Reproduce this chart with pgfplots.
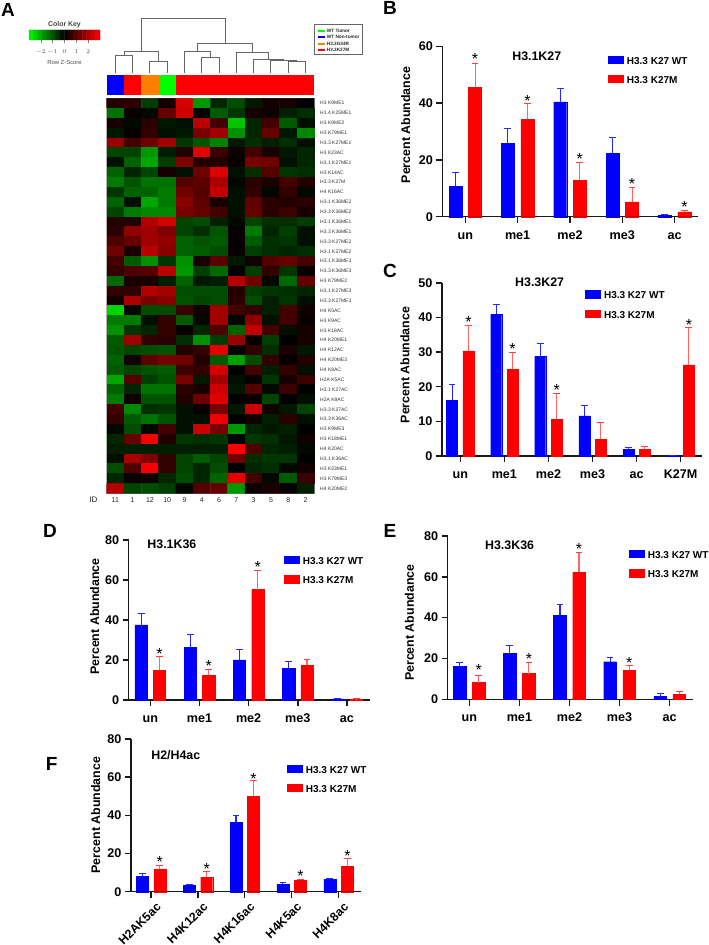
\documentclass[border=0pt]{standalone}
\usepackage{pgfplots}
\pgfplotsset{compat=1.18}
\usepackage{fontspec}
\setmainfont{Liberation Sans}
\newcommand\fs[1]{\fontsize{#1}{#1}\selectfont}
\newcommand\xt[1]{\draw[line width=1.4pt, black!90] (axis cs:#1,0) -- ++(0pt,-6.5pt);}
\newcommand\kt[1]{\draw[line width=.6pt, black!50] (axis cs:#1,-.5) -- ++(0pt,-3.5pt);}
\pgfplotsset{
  panel/.style={
    scale only axis, anchor=south west, axis lines=left, clip=false, enlargelimits=false,
    axis line style={-, line width=1.4pt, black!90},
    tick style={line width=1.4pt, draw=black!90},
    major tick length=6pt, tick align=outside, ymin=0,
    /pgf/number format/assume math mode=true,
    tick label style={font=\fs{12.6}\bfseries},
    label style={font=\fs{12.4}\bfseries},
    title style={font=\fs{12.4}\bfseries, anchor=center},
    every axis title shift=0pt,
    legend cell align=left,
    legend style={draw=none, fill=none, anchor=north west, inner sep=0pt, outer sep=0pt,
      font=\fs{10}\bfseries, row sep=9.2pt, column sep=3.4pt, nodes={inner sep=0pt}},
    legend image code/.code={\fill[##1] (0pt,-1.7pt) rectangle (15pt,5.7pt);},
  },
  xl/.style={x tick label style={text height=9pt, yshift=-4pt}},
  wt/.style={ybar, fill=blue, draw=blue, line width=.3pt, bar shift=0pt,
    error bars/y dir=plus, error bars/y explicit,
    error bars/error bar style={draw=blue!85, line width=1.1pt},
    error bars/error mark options={rotate=90, draw=blue!85, mark size=3.4pt, line width=1pt}},
  mt/.style={ybar, fill=red, draw=red, line width=.3pt, bar shift=0pt,
    error bars/y dir=plus, error bars/y explicit,
    error bars/error bar style={draw=red!60, line width=1.1pt},
    error bars/error mark options={rotate=90, draw=red!75, mark size=3.4pt, line width=1pt}},
  dg/.style={draw=black!60, line width=.8pt, mark=none, line join=miter},
}
\tikzset{sig/.style={font=\fs{16}, anchor=base, inner sep=0pt, yshift=-7pt, text=black},
  plet/.style={font=\fs{19}\bfseries, inner sep=0pt}}
\begin{document}
\begin{tikzpicture}
\path[use as bounding box] (0pt,0pt) rectangle (709pt,945pt);

% panel letters
\node[plet] at (8pt,935pt) {A};
\node[plet] at (390pt,937pt) {B};
\node[plet] at (390pt,674.3pt) {C};
\node[plet] at (50pt,414.3pt) {D};
\node[plet] at (390pt,414.3pt) {E};
\node[plet] at (51.7pt,181pt) {F};

% colour key
\begin{axis}[scale only axis, anchor=south west, at={(29pt,905pt)}, width=71pt, height=10pt,
  xmin=-3, xmax=3, ymin=-.5, ymax=1.5, ytick=\empty, axis line style={draw=none}, clip=false,
  xtick={-2,-1,0,1,2}, x axis line style={draw=none}, xtick pos=bottom,
  tick align=outside, major tick length=3.5pt, tick style={draw=black!50, line width=.6pt},
  x tick label style={font=\fs{5.6}, text=black!70, yshift=-3pt},
  colormap={rg}{rgb255=(0,255,0) rgb255=(0,0,0) rgb255=(255,0,0)},
  point meta min=-3, point meta max=3,
  title={Color Key}, title style={font=\fs{6.9}\bfseries, text=black!75, yshift=-7.5pt},
  xlabel={Row Z-Score}, xlabel style={font=\fs{5.9}, text=black!70, yshift=1pt}]
\addplot[matrix plot*, mesh/cols=16, point meta=x, shader=flat corner] table[row sep=\\] {
x y\\
-2.8125 0\\-2.4375 0\\-2.0625 0\\-1.6875 0\\-1.3125 0\\-0.9375 0\\-0.5625 0\\-0.1875 0\\0.1875 0\\0.5625 0\\0.9375 0\\1.3125 0\\1.6875 0\\2.0625 0\\2.4375 0\\2.8125 0\\
-2.8125 1\\-2.4375 1\\-2.0625 1\\-1.6875 1\\-1.3125 1\\-0.9375 1\\-0.5625 1\\-0.1875 1\\0.1875 1\\0.5625 1\\0.9375 1\\1.3125 1\\1.6875 1\\2.0625 1\\2.4375 1\\2.8125 1\\
};
\kt{-2}\kt{-1}\kt{0}\kt{1}\kt{2}
\end{axis}

% dendrogram and annotation strip, in pixel units of the figure
\begin{axis}[scale only axis, anchor=south west, at={(100pt,845pt)}, width=220pt, height=85pt,
  xmin=100, xmax=320, ymin=15, ymax=100, y dir=reverse, hide axis]
\addplot[dg] coordinates {(115.7,72.7)(115.7,55.7)(132.7,55.7)(132.7,72.7)};
\addplot[dg] coordinates {(149.7,72.7)(149.7,61.3)(167.3,61.3)(167.3,72.7)};
\addplot[dg] coordinates {(124.2,55.7)(124.2,51.7)(158.5,51.7)(158.5,61.3)};
\addplot[dg] coordinates {(201.7,72.7)(201.7,57.7)(219.3,57.7)(219.3,72.7)};
\addplot[dg] coordinates {(184.3,72.7)(184.3,51.7)(210.5,51.7)(210.5,57.7)};
\addplot[dg] coordinates {(288.3,72.7)(288.3,61.7)(305.3,61.7)(305.3,72.7)};
\addplot[dg] coordinates {(270.7,72.7)(270.7,60.3)(296.8,60.3)(296.8,61.7)};
\addplot[dg] coordinates {(253.7,72.7)(253.7,59.7)(283.7,59.7)(283.7,60.3)};
\addplot[dg] coordinates {(236.7,72.7)(236.7,52.3)(268.7,52.3)(268.7,59.7)};
\addplot[dg] coordinates {(197.4,51.7)(197.4,43.3)(252.7,43.3)(252.7,52.3)};
\addplot[dg] coordinates {(141.3,51.7)(141.3,18.3)(225,18.3)(225,43.3)};
\addplot[fill=blue, draw=none] coordinates {(106.7,75)(124,75)(124,95)(106.7,95)} --cycle;
\addplot[fill=red, draw=none] coordinates {(124,75)(141.3,75)(141.3,95)(124,95)} --cycle;
\addplot[fill=orange, draw=none] coordinates {(141.3,75)(158.6,75)(158.6,95)(141.3,95)} --cycle;
\addplot[fill=green, draw=none] coordinates {(158.6,75)(175.9,75)(175.9,95)(158.6,95)} --cycle;
\addplot[fill=red, draw=none] coordinates {(175.9,75)(314.2,75)(314.2,95)(175.9,95)} --cycle;
\end{axis}

% heat-map legend
\draw[black!60, line width=.8pt, fill=white] (314.3pt,920.7pt) rectangle (362.3pt,891pt);
\foreach \yy/\cc/\lab in {914/green/WT Tumor, 907.7/blue/WT Non-tumor, 901/orange/H3.3G34R, 895.3/red/H3.3K27M}{
  \draw[draw=\cc, line width=2pt] (318.3pt,\yy pt) -- (325pt,\yy pt);
  \node[anchor=west, inner sep=0pt, font=\fs{4.7}\bfseries, text=black!85] at (326.7pt,\yy pt) {\lab};
}

% heat map
\begin{axis}[scale only axis, anchor=south west, at={(106.7pt,451.7pt)}, width=207.5pt, height=395pt,
  xmin=-.5, xmax=11.5, ymin=-.5, ymax=39.5, y dir=reverse, clip=false,
  axis line style={draw=black!30, line width=.6pt},
  colormap={rg}{rgb255=(0,228,0) rgb255=(0,0,0) rgb255=(255,0,0)},
  point meta min=-3, point meta max=3,
  xtick={0,...,11}, xticklabels={11,1,12,10,9,4,6,7,3,5,8,2},
  ytick={0,...,39},
  yticklabels={H3 K9ME1,H1.4 K25ME1,H3 K9ME2,H3 K79ME1,H3.3 K27ME1,H3 K23AC,H3.1 K27ME1,H3 K14AC,H3.3 K27M,H4 K16AC,H3.1 K36ME2,H3.3 K36ME2,H3.1 K36ME1,H3.3 K36ME1,H3.3 K27ME2,H3.1 K27ME2,H3.1 K36ME3,H3.3 K36ME3,H3 K79ME2,H3.1 K27ME3,H3.3 K27ME3,H4 K5AC,H3 K9AC,H3 K18AC,H4 K20ME1,H4 K12AC,H4 K20ME3,H4 K8AC,H2A K5AC,H3.1 K27AC,H2A K9AC,H3.3 K27AC,H3.3 K36AC,H3 K9ME3,H3 K18ME1,H4 K20AC,H3.1 K36AC,H3 K23ME1,H3 K79ME3,H4 K20ME2},
  ytick pos=right, xtick pos=bottom, major tick length=0pt,
  y tick label style={font=\fs{5}, text=black!80, xshift=2.5pt},
  x tick label style={font=\fs{7}, text=black!85, yshift=-.5pt}]
\addplot[matrix plot*, mesh/cols=12, shader=flat corner, point meta=explicit]
  table[row sep=\\, header=false, x expr={mod(\coordindex,12)}, y expr={floor((\coordindex+0.5)/12)}, meta index=0] {
0.4\\0.5\\-0.8\\0.2\\2.5\\-2\\-0.5\\-1\\-0.3\\0.2\\0.3\\0\\
-1.5\\0.1\\-0.1\\1.2\\2.4\\0\\-1.2\\-0.7\\0.3\\0.15\\-0.4\\-0.6\\
0.3\\-0.1\\0.5\\-0.3\\-0.2\\2.2\\0.8\\-2.6\\-0.5\\0.8\\-1.2\\-0.2\\
-0.3\\0.1\\0.6\\-0.2\\-0.3\\1.4\\1.9\\-1.9\\-0.5\\1.2\\-0.3\\-1.8\\
1.8\\0.8\\1.3\\1.9\\-0.7\\-1.1\\-1.7\\-0.3\\-0.6\\-0.4\\-0.6\\-0.2\\
-0.9\\-0.9\\-2\\-0.4\\0.4\\2.7\\0.7\\0.15\\0.8\\0.3\\-0.3\\-0.5\\
-0.2\\-1.3\\-2.2\\-0.8\\1.5\\0.4\\0.4\\0.1\\1.4\\1.3\\-0.2\\-0.5\\
-1.3\\-0.5\\-0.9\\0.3\\-0.2\\1.3\\2.6\\-0.2\\-0.6\\1\\-0.7\\-0.6\\
-1.6\\-1.1\\-1.5\\-1.5\\1\\1.1\\2\\-0.1\\0.5\\0.3\\0.8\\0.4\\
-0.7\\-1.3\\-1.3\\-1.6\\1.3\\1\\2.3\\-0.2\\0.6\\-0.1\\0.6\\-0.1\\
-1.3\\-0.2\\-2.2\\-1.6\\1.6\\1.1\\0.3\\-0.2\\1.1\\0.5\\0.4\\0.5\\
-0.9\\-1.6\\-1.8\\-1.8\\1.4\\1.2\\0.8\\-0.2\\1.2\\0.5\\0.7\\0.3\\
0.4\\0.4\\2.1\\2.5\\-0.9\\-1\\-0.4\\-0.1\\-0.9\\-0.6\\-0.6\\-0.8\\
0.5\\1.7\\1.9\\1.5\\-0.9\\-0.6\\-1.1\\0.1\\-1.6\\-0.5\\-0.8\\-0.2\\
0.9\\1.2\\1.9\\1.7\\-1.3\\-1.1\\-1.2\\0.1\\-1.2\\-0.6\\-0.7\\-0.2\\
1.3\\0.3\\2.2\\1.6\\-1.3\\-1.2\\-1\\0.1\\-0.8\\-0.6\\-0.5\\-0.6\\
0.8\\-1.2\\-1.9\\-0.7\\-1.9\\0.3\\1.1\\-0.3\\0.2\\1\\1.2\\0.8\\
0.6\\0.9\\1\\2.2\\-2\\-0.8\\-1.4\\0\\-0.8\\0.6\\-0.7\\0.1\\
-1.4\\0.3\\0.3\\-0.4\\-1.3\\-0.3\\-0.4\\2.1\\1.3\\-0.1\\-1.4\\1.2\\
0.6\\0.6\\2.1\\1.9\\-1\\-1\\-1\\0.4\\-0.8\\-0.7\\-0.6\\-0.5\\
0.2\\2\\1.4\\1.6\\-1.1\\-0.9\\-1\\0.5\\-1\\-0.4\\-0.7\\-0.2\\
-2.8\\-0.1\\-1\\-1\\0.7\\0.2\\1.9\\0.8\\0.6\\-0.4\\0.8\\0.2\\
-1.6\\-1.6\\-0.2\\0.6\\-1.2\\-0.1\\1.9\\-0.1\\1.7\\-0.2\\0.8\\0.1\\
-1.9\\-0.7\\-0.5\\0.6\\0.1\\-0.5\\0.9\\-1.3\\2.3\\0.8\\-0.2\\0.3\\
-1.2\\1.9\\0.6\\0.5\\-0.6\\-1.9\\-0.8\\1.8\\0.1\\-0.8\\0\\0.3\\
-1.1\\-0.9\\-1\\-1.1\\0.4\\0.6\\2.7\\0.05\\0.6\\-0.6\\0.3\\-0.3\\
-1.3\\0.2\\1.1\\1.4\\1.3\\0.4\\-1.2\\-2.1\\-1\\0.6\\0.1\\0.4\\
-1.2\\-0.9\\-1.1\\-1.2\\0.7\\0.6\\2.5\\0\\0.8\\-0.4\\0.6\\-0.2\\
-2.2\\1\\-0.8\\-1.1\\1.4\\-0.3\\1.9\\-0.2\\0.1\\-0.7\\0.3\\0.7\\
-1.3\\-0.5\\-1.5\\-1.5\\0.5\\0.3\\2.4\\-0.3\\1\\-0.1\\0.7\\0\\
-1.6\\0.2\\-1.1\\-1.1\\0.4\\1.3\\2.6\\0\\0.1\\-0.9\\0\\-0.2\\
0.8\\-1.8\\-0.6\\-0.7\\-0.2\\0.1\\1.4\\-0.3\\2.4\\0.2\\-0.3\\-0.9\\
0.6\\-1.2\\-1.5\\-1.1\\-0.2\\-0.2\\2.8\\0\\0.2\\-0.4\\0.5\\-0.2\\
-0.1\\-1\\-0.1\\0.8\\-0.2\\2.4\\1.4\\-2\\-0.5\\-0.3\\-0.4\\0\\
-0.5\\1.2\\2.9\\0.4\\-0.7\\-0.6\\-0.7\\0\\-0.7\\-0.6\\-0.3\\0.2\\
-0.4\\-0.4\\-0.4\\-0.4\\-0.4\\-0.4\\-0.4\\3\\0.9\\-0.5\\-0.4\\-0.1\\
-0.2\\2\\1.5\\0.6\\-0.9\\-1.2\\-0.9\\1.3\\-0.6\\-0.7\\-0.7\\0\\
-1\\0.9\\2.9\\0.6\\-0.9\\-0.5\\-1\\0\\-0.5\\-0.6\\-0.1\\0.2\\
-0.5\\0.1\\0.2\\-0.5\\-1\\-0.5\\-1.3\\2.7\\0.8\\-0.1\\-1.2\\0.7\\
2.1\\-0.9\\-1\\-0.8\\-0.1\\1\\1.2\\-2\\0.15\\0.3\\0.1\\-0.4\\
};
\end{axis}
\node[font=\fs{8}, text=black!85] at (93.3pt,445.5pt) {ID};

% panel B
\begin{axis}[panel, xl, at={(442.3pt,728.3pt)}, width=256pt, height=170.4pt, bar width=13pt,
  xmin=-.4395, xmax=4.4525, ymax=60, ytick={0,20,40,60},
  xtick={0,1,2,3,4}, xticklabels={un,me1,me2,me3,ac},
  ylabel={Percent Abundance}, ylabel style={at={(axis description cs:-.143,.538)}, anchor=center},
  title={H3.1K27}, title style={at={(axis description cs:.369,.943)}},
  legend style={at={(axis description cs:.648,.945)}}]
\addplot[wt] coordinates {(-.187,10.6)+-(0,5.1) (.813,25.8)+-(0,5.3) (1.813,40.4)+-(0,4.8) (2.813,22.2)+-(0,5.7) (3.813,0.5)+-(0,0.1)};
\addlegendentry{H3.3 K27 WT}
\addplot[mt] coordinates {(.187,45.5)+-(0,8.6) (1.187,34.3)+-(0,5.5) (2.187,12.8)+-(0,6.3) (3.187,5.2)+-(0,5.1) (4.187,1.7)+-(0,0.6)};
\addlegendentry{H3.3 K27M}
\node[sig] at (axis cs:.187,56.1) {*};
\node[sig] at (axis cs:1.187,41.3) {*};
\node[sig] at (axis cs:2.187,20.7) {*};
\node[sig] at (axis cs:3.187,12.1) {*};
\node[sig] at (axis cs:4.187,3.9) {*};
\xt{0}\xt{1}\xt{2}\xt{3}\xt{4}
\end{axis}

% panel C
\begin{axis}[panel, xl, at={(442pt,489pt)}, width=259.7pt, height=173pt, bar width=11pt,
  xmin=-.415, xmax=5.478, ymax=50, ytick={0,10,20,30,40,50},
  xtick={0,1,2,3,4,5}, xticklabels={un,me1,me2,me3,ac,K27M},
  ylabel={Percent Abundance}, ylabel style={at={(axis description cs:-.1425,.526)}, anchor=center},
  title={H3.3K27}, title style={at={(axis description cs:.376,1.006)}},
  legend style={at={(axis description cs:.552,.958)}}]
\addplot[wt] coordinates {(-.186,16.1)+-(0,4.7) (.814,40.9)+-(0,2.8) (1.814,28.8)+-(0,3.7) (2.814,11.6)+-(0,3) (3.814,1.9)+-(0,0.6) (4.814,0.1)+-(0,0)};
\addlegendentry{H3.3 K27 WT}
\addplot[mt] coordinates {(.186,30.4)+-(0,7.4) (1.186,25)+-(0,5) (2.186,10.6)+-(0,7.5) (3.186,4.8)+-(0,4.9) (4.186,2)+-(0,0.7) (5.186,26.3)+-(0,10.9)};
\addlegendentry{H3.3 K27M}
\node[sig] at (axis cs:.187,39.1) {*};
\node[sig] at (axis cs:1.187,31.4) {*};
\node[sig] at (axis cs:2.187,19.4) {*};
\node[sig] at (axis cs:5.187,38.2) {*};
\xt{0}\xt{1}\xt{2}\xt{3}\xt{4}\xt{5}
\end{axis}

% panel D
\begin{axis}[panel, xl, at={(128.7pt,245pt)}, width=241.3pt, height=160pt, bar width=12.3pt,
  xmin=-.439, xmax=4.468, ymax=80, ytick={0,20,40,60,80},
  xtick={0,1,2,3,4}, xticklabels={un,me1,me2,me3,ac},
  ylabel={Percent Abundance}, ylabel style={at={(axis description cs:-.141,.521)}, anchor=center},
  title={H3.1K36}, title style={at={(axis description cs:.179,.971)}},
  legend style={at={(axis description cs:.644,.9)}}]
\addplot[wt] coordinates {(-.1865,37.5)+-(0,5.8) (.8135,26.2)+-(0,6.6) (1.8135,20)+-(0,5.3) (2.8135,15.8)+-(0,3.5) (3.8135,0.6)+-(0,0.1)};
\addlegendentry{H3.3 K27 WT}
\addplot[mt] coordinates {(.1865,14.8)+-(0,6.9) (1.1865,12.3)+-(0,3) (2.1865,55.2)+-(0,9.6) (3.1865,17.3)+-(0,3) (4.1865,0.4)+-(0,0.1)};
\addlegendentry{H3.3 K27M}
\node[sig] at (axis cs:.187,23.8) {*};
\node[sig] at (axis cs:1.187,17.7) {*};
\node[sig] at (axis cs:2.187,67.3) {*};
\xt{0}\xt{1}\xt{2}\xt{3}\xt{4}
\end{axis}

% panel E
\begin{axis}[panel, xl, at={(447.7pt,245.7pt)}, width=245.6pt, height=163.3pt, bar width=12.7pt,
  xmin=-.431, xmax=4.471, ymax=80, ytick={0,20,40,60,80},
  xtick={0,1,2,3,4}, xticklabels={un,me1,me2,me3,ac},
  ylabel={Percent Abundance}, ylabel style={at={(axis description cs:-.156,.469)}, anchor=center},
  title={H3.3K36}, title style={at={(axis description cs:.252,.945)}},
  legend style={at={(axis description cs:.739,.914)}}]
\addplot[wt] coordinates {(-.19,16.2)+-(0,1.6) (.81,22.5)+-(0,3.9) (1.81,41.1)+-(0,5.3) (2.81,18.4)+-(0,2.2) (3.81,1.3)+-(0,1.5)};
\addlegendentry{H3.3 K27 WT}
\addplot[mt] coordinates {(.19,8.2)+-(0,3.6) (1.19,12.6)+-(0,5.4) (2.19,62.2)+-(0,9.8) (3.19,14.2)+-(0,2.3) (4.19,2.4)+-(0,1.4)};
\addlegendentry{H3.3 K27M}
\node[sig] at (axis cs:.19,14.9) {*};
\node[sig] at (axis cs:1.19,20.7) {*};
\node[sig] at (axis cs:2.19,74.6) {*};
\node[sig] at (axis cs:3.19,18.3) {*};
\xt{0}\xt{1}\xt{2}\xt{3}\xt{4}
\end{axis}

% panel F
\begin{axis}[panel, at={(131pt,53.3pt)}, width=229.7pt, height=152.7pt, bar width=12pt,
  xmin=-.426, xmax=4.471, ymax=80, ytick={0,20,40,60,80},
  xtick={0,1,2,3,4}, xticklabels={H2AK5ac,H4K12ac,H4K16ac,H4K5ac,H4K8ac},
  x tick label style={rotate=45, anchor=north east, xshift=4pt, yshift=-2.5pt, font=\fs{12.2}\bfseries},
  ylabel={Percent Abundance}, ylabel style={at={(axis description cs:-.154,.502)}, anchor=center},
  title={H2/H4ac}, title style={at={(axis description cs:.195,.895)}},
  legend style={at={(axis description cs:.68,.832)}}]
\addplot[wt] coordinates {(-.187,8)+-(0,1.4) (.813,3.3)+-(0,0.6) (1.813,36.5)+-(0,3.3) (2.813,4)+-(0,0.7) (3.813,6.5)+-(0,0.3)};
\addlegendentry{H3.3 K27 WT}
\addplot[mt] coordinates {(.187,11.9)+-(0,1.9) (1.187,7.7)+-(0,3) (2.187,50.1)+-(0,8.2) (3.187,5.9)+-(0,0.7) (4.187,13.3)+-(0,4.2)};
\addlegendentry{H3.3 K27M}
\node[sig] at (axis cs:.187,16.6) {*};
\node[sig] at (axis cs:1.187,12.8) {*};
\node[sig] at (axis cs:2.187,60) {*};
\node[sig] at (axis cs:3.187,8.9) {*};
\node[sig] at (axis cs:4.187,19.7) {*};
\xt{0}\xt{1}\xt{2}\xt{3}\xt{4}
\end{axis}
\end{tikzpicture}
\end{document}
